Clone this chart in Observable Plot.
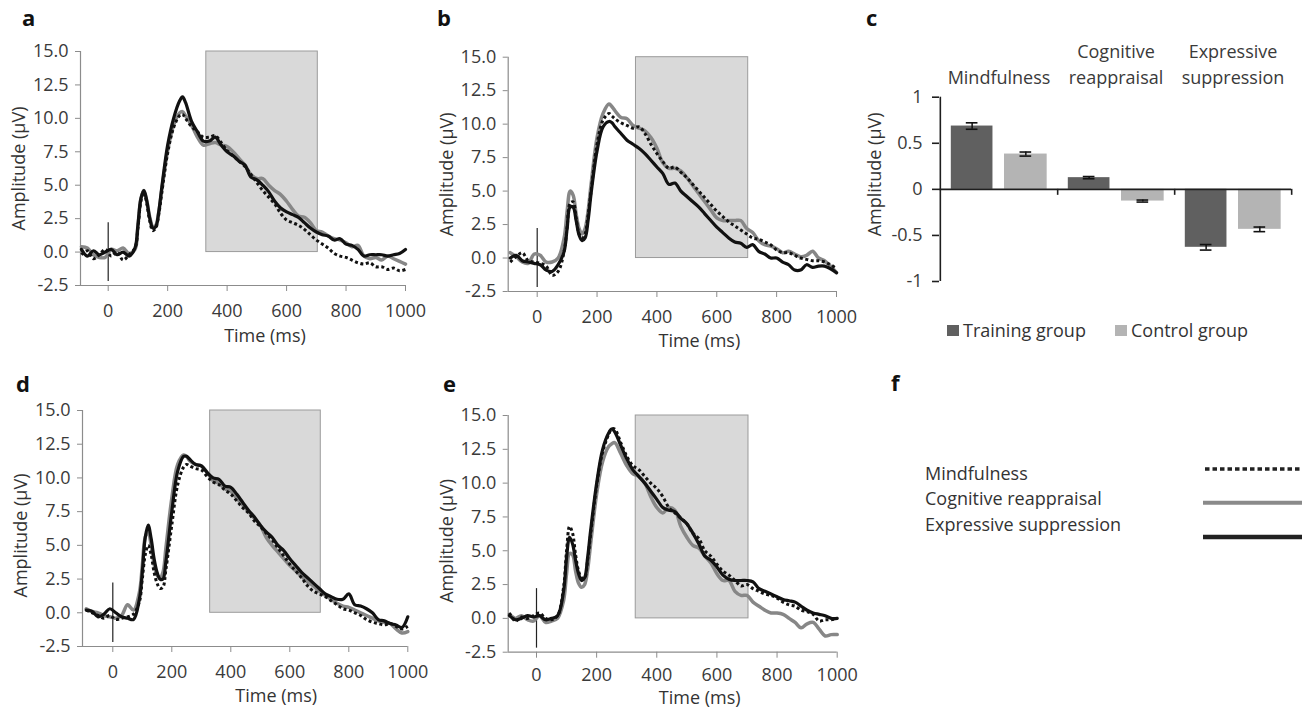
<!DOCTYPE html>
<html><head><meta charset="utf-8">
<script src="https://cdn.jsdelivr.net/npm/d3@7"></script>
<script src="https://cdn.jsdelivr.net/npm/@observablehq/plot@0.6"></script>
<style>
body{margin:0;background:#fff;}
#fig{position:relative;width:1302px;height:711px;overflow:hidden;font-family:"Open Sans",sans-serif;background:#fff;color:#333}
.letter{position:absolute;font-weight:bold;font-size:22px;line-height:22px;color:#111}
.txt{position:absolute;font-size:18px;line-height:18px;color:#333;white-space:nowrap}
.sw{position:absolute;width:12px;height:11px}
</style></head><body><div id="fig"></div>
<script>
// ---------- data ----------
const times = [-90,-70,-50,-30,-10,10,30,50,70,
  90,100,110,120,130,140,150,160,170,180,
  200,220,240,250,260,280,300,
  320,340,360,380,400,420,440,460,480,500,
  520,540,560,580,600,620,640,660,680,700,
  720,740,760,780,800,820,840,860,880,900,
  920,940,960,980,1000];

const seriesNames = ["Mindfulness","Cognitive reappraisal","Expressive suppression"];

// panel a
const mfA = [-0.2,0.1,-0.5,-0.2,0.2,-0.3,0.0,-0.6,-0.2,
  0.3,1.8,3.8,4.5,3.6,2.3,1.6,1.8,2.8,4.4,
  7.4,9.3,10.2,10.3,10.0,9.4,9.0,
  8.6,8.6,8.7,8.2,7.6,7.2,6.8,6.4,5.8,5.2,
  4.6,4.1,3.6,2.9,2.4,2.2,2.0,1.7,1.3,0.9,
  0.6,0.3,-0.1,-0.3,-0.4,-0.6,-0.8,-0.9,-0.8,-1.1,
  -1.1,-1.3,-1.2,-1.4,-1.3];
const crA = [0.4,0.3,-0.2,-0.4,-0.4,0.2,0.1,0.3,-0.1,
  0.2,2.0,4.0,4.6,3.8,2.6,1.9,2.0,3.0,4.6,
  7.6,9.5,10.4,10.5,10.2,9.5,8.6,
  8.0,8.1,8.2,8.0,7.9,7.5,7.0,6.5,5.8,5.5,
  5.5,5.0,4.6,4.3,3.8,3.2,2.7,2.6,2.2,1.6,
  1.5,1.2,1.0,0.9,0.7,0.4,0.5,-0.3,-0.5,-0.4,
  -0.6,-0.3,-0.5,-0.7,-0.9];
const esA = [0.2,-0.3,0.1,-0.2,0.0,0.2,-0.2,0.0,-0.3,
  0.3,2.0,4.0,4.6,3.8,2.5,1.8,1.9,3.0,4.8,
  8.0,10.0,11.3,11.6,11.2,9.8,9.0,
  8.3,8.3,8.6,8.0,7.5,7.2,6.8,6.5,5.6,5.4,
  5.0,4.5,3.8,3.3,3.0,2.8,2.6,2.2,1.8,1.5,
  1.3,1.2,0.9,1.0,0.6,0.5,0.2,-0.3,-0.2,-0.2,
  -0.2,-0.3,-0.2,-0.1,0.2];

// panel b
const mfB = [-0.3,0.1,0.4,-0.2,-0.3,-0.4,-0.6,-1.3,-1.0,
  0.5,2.3,4.1,4.2,3.0,1.8,1.5,1.8,3.2,5.0,
  8.5,10.3,10.8,10.6,10.4,10.1,9.9,
  9.7,9.8,9.3,8.5,7.8,7.2,6.7,6.8,6.4,6.0,
  5.5,5.0,4.5,4.0,3.5,3.1,2.7,2.4,2.1,1.8,
  1.5,1.4,1.2,1.0,0.6,0.4,0.4,0.2,0.0,-0.1,
  -0.2,-0.2,-0.3,-0.5,-0.8];
const crB = [0.4,0.1,-0.3,-0.4,0.3,0.2,-0.3,-0.3,0.0,
  1.5,3.5,5.0,4.7,3.3,2.2,1.8,2.2,3.5,5.5,
  9.0,10.8,11.5,11.3,11.0,10.5,10.4,
  9.9,9.7,9.5,9.0,8.2,7.1,6.7,6.7,6.5,6.0,
  5.4,4.8,4.2,3.6,3.0,2.8,2.8,2.8,2.8,2.2,
  1.9,1.3,1.0,0.9,0.7,0.4,0.5,0.3,0.1,0.2,
  0.5,0.0,-0.2,-0.6,-1.1];
const esB = [0.0,0.2,-0.2,-0.3,-0.4,-0.5,-0.9,-1.0,-0.5,
  0.5,2.2,3.8,3.8,2.8,1.7,1.3,1.5,2.8,4.8,
  8.0,9.8,10.2,10.1,9.8,9.3,8.8,
  8.5,8.2,7.8,7.3,6.8,6.3,5.5,5.6,5.0,4.6,
  4.2,3.8,3.3,2.8,2.3,1.9,1.5,1.2,1.1,0.8,
  1.0,0.5,0.3,0.0,0.0,-0.3,-0.5,-0.9,-0.9,-0.5,
  -0.7,-0.6,-0.6,-0.8,-1.1];

// panel d
const mfD = [0.2,0.0,-0.2,-0.4,-0.2,-0.5,-0.4,-0.3,-0.1,
  0.8,2.5,4.3,5.0,4.3,3.0,2.2,1.8,1.9,3.2,
  6.5,9.5,10.8,11.0,10.9,10.7,10.6,
  10.1,9.7,9.5,9.1,8.8,8.3,7.8,7.4,6.8,6.4,
  5.9,5.4,4.8,4.2,3.6,3.1,2.6,2.0,1.6,1.4,
  1.2,0.9,0.6,0.3,0.2,0.0,-0.2,-0.5,-0.7,-0.8,
  -0.9,-0.8,-1.0,-1.2,-1.0];
const crD = [0.3,0.1,0.0,-0.2,-0.3,-0.4,-0.2,0.6,0.2,
  1.5,3.5,5.6,6.0,5.0,3.6,2.8,2.6,3.0,4.8,
  8.5,11.0,11.7,11.6,11.3,11.0,10.9,
  10.4,9.8,9.6,9.2,9.0,8.5,8.0,7.5,7.0,6.5,
  5.6,5.0,4.5,4.0,3.5,3.1,2.7,2.3,2.0,1.6,
  1.3,1.0,0.7,0.5,0.4,0.2,0.0,-0.2,-0.4,-0.6,
  -0.7,-0.8,-1.2,-1.5,-1.4];
const esD = [0.2,0.1,-0.3,-0.1,0.3,0.0,-0.3,-0.4,-0.5,
  1.0,3.0,5.6,6.5,5.5,4.0,3.0,2.5,2.5,3.8,
  7.5,10.5,11.6,11.6,11.4,11.0,10.9,
  10.4,10.0,9.9,9.4,9.3,8.8,8.2,7.6,7.1,6.5,
  6.0,5.6,5.0,4.6,4.0,3.5,3.0,2.6,2.2,1.8,
  1.4,1.2,1.0,1.0,1.4,0.6,0.5,0.3,0.0,-0.5,
  -0.6,-0.8,-0.9,-1.1,-0.3];

// panel e
const mfE = [0.4,-0.2,0.1,0.0,0.2,0.4,0.0,-0.1,0.2,
  2.3,5.0,6.8,6.3,4.7,3.5,3.0,3.0,4.3,6.2,
  9.8,12.3,13.6,14.0,14.0,13.0,12.0,
  11.3,11.0,10.5,10.0,9.6,9.0,8.2,7.8,7.4,7.0,
  6.3,5.9,5.0,4.6,4.0,3.5,3.2,2.8,2.4,2.5,
  2.2,2.0,1.8,1.7,1.5,1.2,1.0,0.9,0.6,0.5,
  0.3,-0.2,-0.1,-0.1,0.0];
const crE = [0.3,0.0,0.2,-0.1,-0.2,0.2,-0.3,-0.2,0.0,
  1.3,3.3,4.8,4.7,3.5,2.6,2.3,2.5,3.6,5.5,
  9.2,11.6,12.7,12.9,13.0,12.2,11.3,
  10.7,10.5,10.0,9.0,8.2,7.8,8.2,8.0,6.8,6.0,
  5.4,5.2,4.6,4.1,3.3,2.8,2.8,2.0,1.7,1.7,
  1.2,0.9,0.6,0.4,0.4,0.3,0.0,-0.3,-0.7,-0.4,
  -0.3,-0.8,-1.3,-1.2,-1.2];
const esE = [0.2,-0.1,0.0,0.2,0.1,0.2,-0.1,0.0,0.2,
  2.0,4.5,6.0,5.5,4.3,3.3,2.8,3.0,4.5,6.5,
  10.0,12.5,13.7,14.0,13.8,12.8,11.8,
  11.0,10.5,10.0,9.4,8.8,8.2,8.0,7.9,7.4,7.0,
  6.3,5.5,4.6,4.3,3.8,3.2,2.9,2.8,2.8,2.8,
  2.7,2.2,2.0,1.8,1.6,1.4,1.3,1.2,0.9,0.6,
  0.4,0.3,0.2,0.0,0.0];

const windowStart = 330, windowEnd = 705;
const yTicks = [-2.5, 0, 2.5, 5, 7.5, 10, 12.5, 15];
const xTicks = [0, 200, 400, 600, 800, 1000];

// panel c
const cats = ["Mindfulness","Cognitive reappraisal","Expressive suppression"];
const catLabels = ["Mindfulness","Cognitive\nreappraisal","Expressive\nsuppression"];
const groups = ["Training group","Control group"];
const trainingMean = [0.687, 0.127, -0.629];
const trainingErr  = [0.035, 0.012, 0.030];
const controlMean  = [0.383, -0.127, -0.434];
const controlErr   = [0.022, 0.011, 0.025];
const cTicks = [-1, -0.5, 0, 0.5, 1];

// ---------- layout ----------
const FONT = '"Open Sans", sans-serif';
const fig = document.getElementById("fig");
function place(el, left, top, w){
  const d = document.createElement("div");
  d.style.cssText = `position:absolute;left:${left}px;top:${top}px;width:${w}px;`;
  d.appendChild(el); fig.appendChild(d); return d;
}
function addDiv(cls, text, left, top){
  const d = document.createElement("div");
  d.className = cls; d.textContent = text;
  d.style.left = left + "px"; d.style.top = top + "px";
  fig.appendChild(d); return d;
}

const panels = [
  {left:0,   top:0,   h:355, axisX:80,    x0:107.7, x1000:405,   yTop:51,   yBot:285,   mf:mfA, cr:crA, es:esA, labelDx:22, labelDy:51, ylabDy:0, tickPad:13},
  {left:430, top:0,   h:355, axisX:507.7, x0:536.7, x1000:836,   yTop:56.7, yBot:291,   mf:mfB, cr:crB, es:esB, labelDx:27, labelDy:50, ylabDy:0, tickPad:13},
  {left:0,   top:360, h:351, axisX:82,    x0:112.3, x1000:407.3, yTop:410,  yBot:646,   mf:mfD, cr:crD, es:esD, labelDx:31, labelDy:50, ylabDy:7, tickPad:13},
  {left:430, top:360, h:351, axisX:507.7, x0:536,   x1000:836.7, yTop:415,  yBot:651.7, mf:mfE, cr:crE, es:esE, labelDx:27, labelDy:46.5, ylabDy:7, tickPad:10}
];

function erpPanel(p){
  const W = 440, H = p.h;
  const pxPerMs = (p.x1000 - p.x0) / 1000;
  const xmin = (p.axisX - p.x0) / pxPerMs;
  const mL = p.axisX - p.left, mR = W - (p.x1000 - p.left);
  const mT = p.yTop - p.top, mB = H - (p.yBot - p.top);
  const rows = arr => times.map((t, i) => ({t, v: arr[i]}));
  const svg = Plot.plot({
    width: W, height: H, marginLeft: mL, marginRight: mR, marginTop: mT, marginBottom: mB,
    x: {domain: [xmin, 1000], axis: null},
    y: {domain: [-2.5, 15], axis: null},
    style: {fontFamily: FONT, fontSize: "18px", color: "#3a3a3a", background: "transparent", overflow: "visible"},
    marks: [
      Plot.rect([{a: windowStart, b: windowEnd, lo: 0, hi: 15}], {x1: "a", x2: "b", y1: "lo", y2: "hi", fill: "#d9d9d9", stroke: "#9b9b9b", strokeWidth: 1}),
      Plot.ruleX([xmin], {stroke: "#8c8c8c", strokeWidth: 1.2}),
      Plot.ruleY([-2.5], {stroke: "#8c8c8c", strokeWidth: 1.2}),
      Plot.axisY({ticks: yTicks, tickFormat: d => d.toFixed(1), tickSize: 5, tickPadding: 7, stroke: "#8c8c8c", label: null, fill: "#3a3a3a"}),
      Plot.axisX({ticks: xTicks, tickFormat: d => String(d), tickSize: 6, tickPadding: p.tickPad, stroke: "#8c8c8c", label: null, fill: "#3a3a3a"}),
      Plot.ruleX([0], {y1: -2.2, y2: 2.2, stroke: "#222", strokeWidth: 1.2}),
      Plot.line(rows(p.cr), {x: "t", y: "v", stroke: "#878787", strokeWidth: 3.5, curve: "catmull-rom"}),
      Plot.line(rows(p.mf), {x: "t", y: "v", stroke: "#111", strokeWidth: 3, strokeDasharray: "3,2.6", strokeLinecap: "butt", curve: "catmull-rom"}),
      Plot.line(rows(p.es), {x: "t", y: "v", stroke: "#111", strokeWidth: 3.2, curve: "catmull-rom"}),
      Plot.text(["Time (ms)"], {text: d => d, frameAnchor: "bottom", lineAnchor: "middle", textAnchor: "middle", dx: p.labelDx, dy: p.labelDy, fill: "#333", fontSize: 18}),
      Plot.text(["Amplitude (µV)"], {text: d => d, frameAnchor: "left", rotate: -90, lineAnchor: "middle", textAnchor: "middle", dx: -61, dy: p.ylabDy, fill: "#333", fontSize: 18})
    ]
  });
  place(svg, p.left, p.top, W);
}
panels.forEach(erpPanel);

// ---------- panel c ----------
(function(){
  const cLeft = 850, cTop = 0, W = 452, H = 300;
  const axisXc = 939, zeroRight = 1291, yTopC = 96.7, yBotC = 281;
  const bw = (zeroRight - axisXc) / 3;
  const tRows = cats.map((c, i) => ({cat: c, v: trainingMean[i], e: trainingErr[i]}));
  const kRows = cats.map((c, i) => ({cat: c, v: controlMean[i], e: controlErr[i]}));
  const tC = 31.8, kC = 85.5; // bar centres inside a group
  const svg = Plot.plot({
    width: W, height: H,
    marginLeft: axisXc - cLeft, marginRight: W - (zeroRight - cLeft),
    marginTop: yTopC - cTop, marginBottom: H - (yBotC - cTop),
    x: {type: "band", domain: cats, padding: 0, axis: null},
    y: {domain: [-1, 1], axis: null},
    style: {fontFamily: FONT, fontSize: "18px", color: "#3a3a3a", background: "transparent", overflow: "visible"},
    marks: [
      Plot.barY(tRows, {x: "cat", y1: 0, y2: "v", fill: "#606060", insetLeft: tC - 21, insetRight: bw - tC - 21}),
      Plot.barY(kRows, {x: "cat", y1: 0, y2: "v", fill: "#b4b4b4", insetLeft: kC - 21.5, insetRight: bw - kC - 21.5}),
      Plot.ruleY([0], {stroke: "#1e1e1e", strokeWidth: 1.6}),
      Plot.ruleX([cats[0]], {dx: -bw / 2, stroke: "#1e1e1e", strokeWidth: 1.6}),
      Plot.ruleX(cats, {dx: bw / 2, y1: 0, y2: -0.065, stroke: "#1e1e1e", strokeWidth: 1.6}),
      Plot.ruleX(tRows, {x: "cat", y1: d => d.v - d.e, y2: d => d.v + d.e, dx: tC - bw / 2, stroke: "#111", strokeWidth: 1.5}),
      Plot.tickY(tRows, {x: "cat", y: d => d.v + d.e, insetLeft: tC - 6, insetRight: bw - tC - 6, stroke: "#111", strokeWidth: 1.6}),
      Plot.tickY(tRows, {x: "cat", y: d => d.v - d.e, insetLeft: tC - 6, insetRight: bw - tC - 6, stroke: "#111", strokeWidth: 1.6}),
      Plot.ruleX(kRows, {x: "cat", y1: d => d.v - d.e, y2: d => d.v + d.e, dx: kC - bw / 2, stroke: "#111", strokeWidth: 1.5}),
      Plot.tickY(kRows, {x: "cat", y: d => d.v + d.e, insetLeft: kC - 6, insetRight: bw - kC - 6, stroke: "#111", strokeWidth: 1.6}),
      Plot.tickY(kRows, {x: "cat", y: d => d.v - d.e, insetLeft: kC - 6, insetRight: bw - kC - 6, stroke: "#111", strokeWidth: 1.6}),
      Plot.axisY({ticks: cTicks, tickFormat: d => String(d), tickSize: 7, tickPadding: 10, stroke: "#1e1e1e", strokeWidth: 1.6, label: null, fill: "#3a3a3a"}),
      Plot.axisX({anchor: "top", tickSize: 0, tickPadding: 13, tickFormat: d => catLabels[cats.indexOf(d)], lineHeight: 1.45, label: null, fill: "#3a3a3a"}),
      Plot.text(["Amplitude (µV)"], {text: d => d, frameAnchor: "left", rotate: -90, lineAnchor: "middle", textAnchor: "middle", dx: -64, dy: -15, fill: "#333", fontSize: 18})
    ]
  });
  place(svg, cLeft, cTop, W);

  // legend of c
  const sw1 = document.createElement("div"); sw1.className = "sw"; sw1.style.cssText += "left:947px;top:325px;background:#606060"; fig.appendChild(sw1);
  addDiv("txt", groups[0], 963, 320.5);
  const sw2 = document.createElement("div"); sw2.className = "sw"; sw2.style.cssText += "left:1115px;top:325px;background:#b4b4b4"; fig.appendChild(sw2);
  addDiv("txt", groups[1], 1131, 320.5);
})();

// ---------- panel f (line legend) ----------
addDiv("txt", seriesNames[0], 925, 464);
addDiv("txt", seriesNames[1], 925, 489);
addDiv("txt", seriesNames[2], 925, 514.5);
(function(){
  const ns = "http://www.w3.org/2000/svg";
  const s = document.createElementNS(ns, "svg");
  s.setAttribute("width", 110); s.setAttribute("height", 90);
  s.style.cssText = "position:absolute;left:1200px;top:455px;overflow:visible";
  const specs = [
    {y: 14, stroke: "#222", w: 3.6, dash: "4.5,3", x1: 5},
    {y: 47.7, stroke: "#8a8a8a", w: 4, dash: null, x1: 3},
    {y: 82, stroke: "#222", w: 4.5, dash: null, x1: 3}
  ];
  specs.forEach(sp => {
    const l = document.createElementNS(ns, "line");
    l.setAttribute("x1", sp.x1); l.setAttribute("x2", 110);
    l.setAttribute("y1", sp.y); l.setAttribute("y2", sp.y);
    l.setAttribute("stroke", sp.stroke); l.setAttribute("stroke-width", sp.w);
    if (sp.dash) l.setAttribute("stroke-dasharray", sp.dash);
    s.appendChild(l);
  });
  fig.appendChild(s);
})();

// ---------- panel letters ----------
[["a",22,5.5],["b",437,5.5],["c",866,5.5],["d",16,371.5],["e",443,372],["f",891,371]].forEach(([t,l,tp]) => addDiv("letter", t, l, tp));
</script>
</body></html>
